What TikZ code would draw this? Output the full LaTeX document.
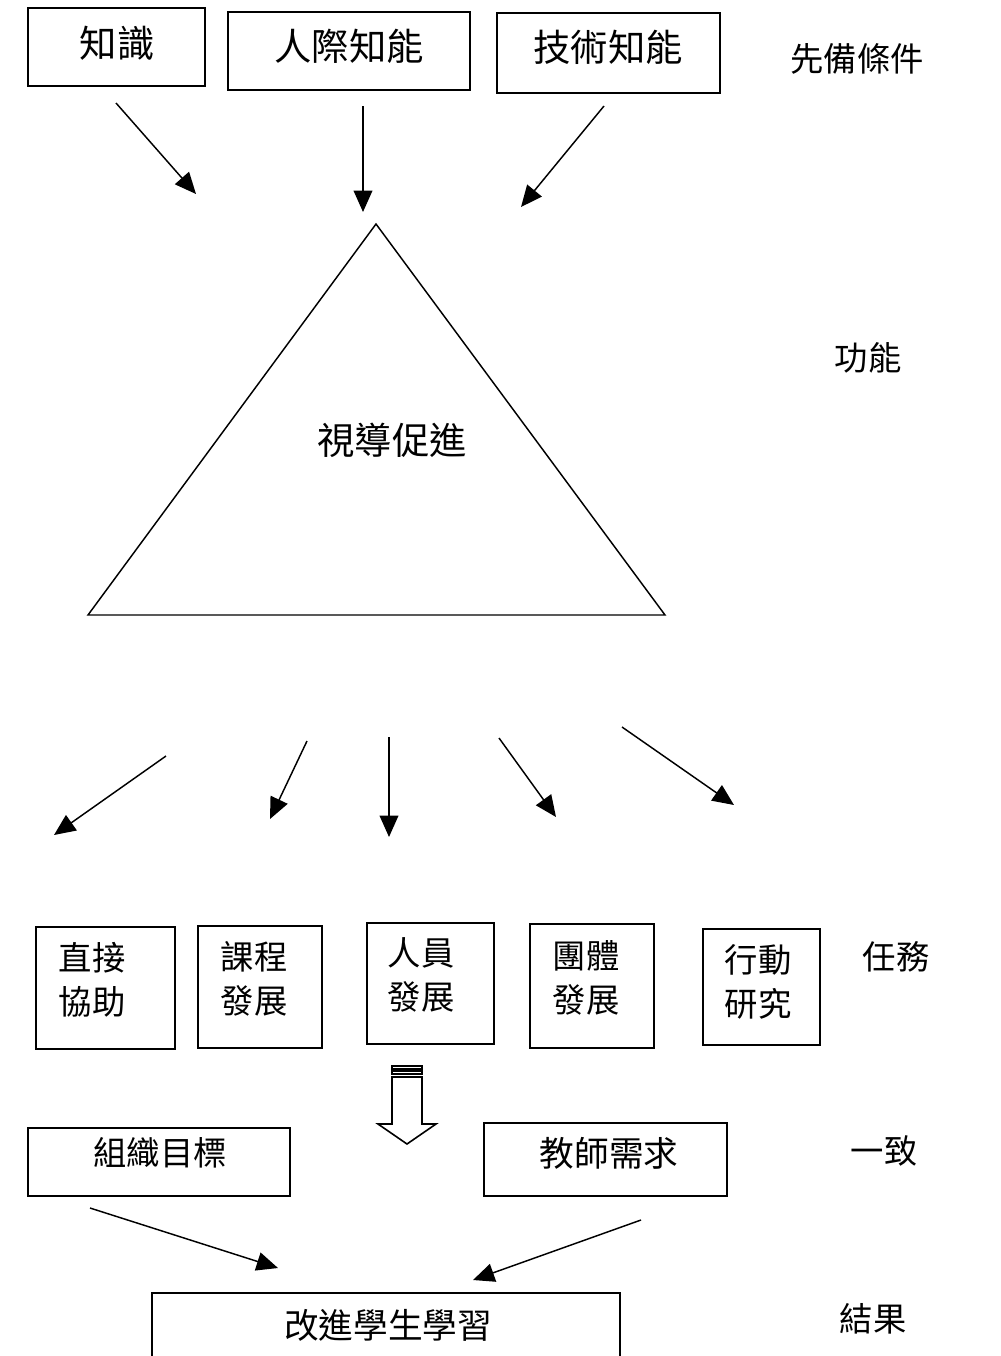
\documentclass[tikz,border=0pt]{standalone}
\usepackage{fontspec}
\setmainfont{Noto Sans CJK TC}
\usetikzlibrary{arrows.meta}
\begin{document}
\begin{tikzpicture}[x=0.75pt,y=-0.75pt,
  box/.style={draw,line width=1pt,inner sep=0pt},
  lbl/.style={inner sep=0pt,font=\fontsize{25pt}{30pt}\selectfont},
  big/.style={inner sep=0pt,font=\fontsize{28pt}{32pt}\selectfont},
  two/.style={inner sep=0pt,align=center,font=\fontsize{25pt}{33pt}\selectfont},
  arr/.style={line width=1.1pt,-{Triangle[length=16pt,width=14pt]}},
  hollow/.style={draw,line width=1.2pt,fill=white}]
\useasboundingbox (0,0) rectangle (1000,1356);
% top boxes
\node[box,minimum width=177*0.75pt,minimum height=78*0.75pt] (know) at (116.5,47) {};
\node[big] (knowt) at (117,43) {知識};
\node[box,minimum width=242*0.75pt,minimum height=78*0.75pt] (inter) at (349,51) {};
\node[big] (intert) at (349,46) {人際知能};
\node[box,minimum width=223*0.75pt,minimum height=80*0.75pt] (tech) at (608.5,53) {};
\node[big] (techt) at (608,47) {技術知能};
\node[lbl] (pre) at (857,59) {先備條件};
% arrows into triangle
\coordinate (a1s) at (116,103); \coordinate (a1e) at (196,194);
\coordinate (a2s) at (363,106); \coordinate (a2e) at (363,212);
\coordinate (a3s) at (604,106); \coordinate (a3e) at (521,207);
\draw[arr] (a1s) -- (a1e);
\draw[arr] (a2s) -- (a2e);
\draw[arr] (a3s) -- (a3e);
% triangle
\coordinate (tA) at (376,224); \coordinate (tL) at (88,615); \coordinate (tR) at (665,615);
\draw[line width=1.1pt] (tA) -- (tL) -- (tR) -- cycle;
\node[big] (sup) at (392,440) {視導促進};
\node[lbl] (func) at (868,358) {功能};
% arrows out of triangle
\coordinate (b1s) at (166,756); \coordinate (b1e) at (54,835);
\coordinate (b2s) at (307,741); \coordinate (b2e) at (270,819);
\coordinate (b3s) at (389,737); \coordinate (b3e) at (389,837);
\coordinate (b4s) at (499,738); \coordinate (b4e) at (556,817);
\coordinate (b5s) at (622,727); \coordinate (b5e) at (734,805);
\draw[arr] (b1s) -- (b1e);
\draw[arr] (b2s) -- (b2e);
\draw[arr] (b3s) -- (b3e);
\draw[arr] (b4s) -- (b4e);
\draw[arr] (b5s) -- (b5e);
% task boxes
\node[box,minimum width=139*0.75pt,minimum height=122*0.75pt] (t1) at (105.5,988) {};
\node[two] (t1t) at (92,980) {直接\\協助};
\node[box,minimum width=124*0.75pt,minimum height=122*0.75pt] (t2) at (260,987) {};
\node[two] (t2t) at (254,979) {課程\\發展};
\node[box,minimum width=127*0.75pt,minimum height=121*0.75pt] (t3) at (430.5,983.5) {};
\node[two] (t3t) at (421,975) {人員\\發展};
\node[box,minimum width=124*0.75pt,minimum height=124*0.75pt] (t4) at (592,986) {};
\node[two] (t4t) at (586,978) {團體\\發展};
\node[box,minimum width=117*0.75pt,minimum height=116*0.75pt] (t5) at (761.5,987) {};
\node[two] (t5t) at (758,982) {行動\\研究};
\node[lbl] (task) at (896,957) {任務};
% hollow arrow
\draw[line width=1.2pt] (392,1066) rectangle (422,1069);
\draw[line width=1.2pt] (392,1071) rectangle (422,1074);
\draw[hollow] (392,1077) -- (392,1124) -- (378,1124) -- (407,1144) -- (436,1124) -- (422,1124) -- (422,1077) -- cycle;
% alignment boxes
\node[box,minimum width=262*0.75pt,minimum height=68*0.75pt] (org) at (159,1162) {};
\node[lbl] (orgt) at (160,1153) {組織目標};
\node[box,minimum width=243*0.75pt,minimum height=73*0.75pt] (need) at (605.5,1159.5) {};
\node[lbl,font=\fontsize{26pt}{30pt}\selectfont] (needt) at (609,1153) {教師需求};
\node[lbl] (cons) at (884,1151) {一致};
% arrows to result
\coordinate (c1s) at (90,1208); \coordinate (c1e) at (278,1268);
\coordinate (c2s) at (641,1220); \coordinate (c2e) at (473,1280);
\draw[arr] (c1s) -- (c1e);
\draw[arr] (c2s) -- (c2e);
% result box (cut by page edge)
\coordinate (r1) at (152,1370); \coordinate (r2) at (152,1293);
\coordinate (r3) at (620,1293); \coordinate (r4) at (620,1370);
\draw[line width=1pt] (r1) -- (r2) -- (r3) -- (r4);
\node[lbl,font=\fontsize{26pt}{30pt}\selectfont] (rest) at (388,1325) {改進學生學習};
\node[lbl] (res) at (873,1319) {結果};
\end{tikzpicture}
\end{document}
